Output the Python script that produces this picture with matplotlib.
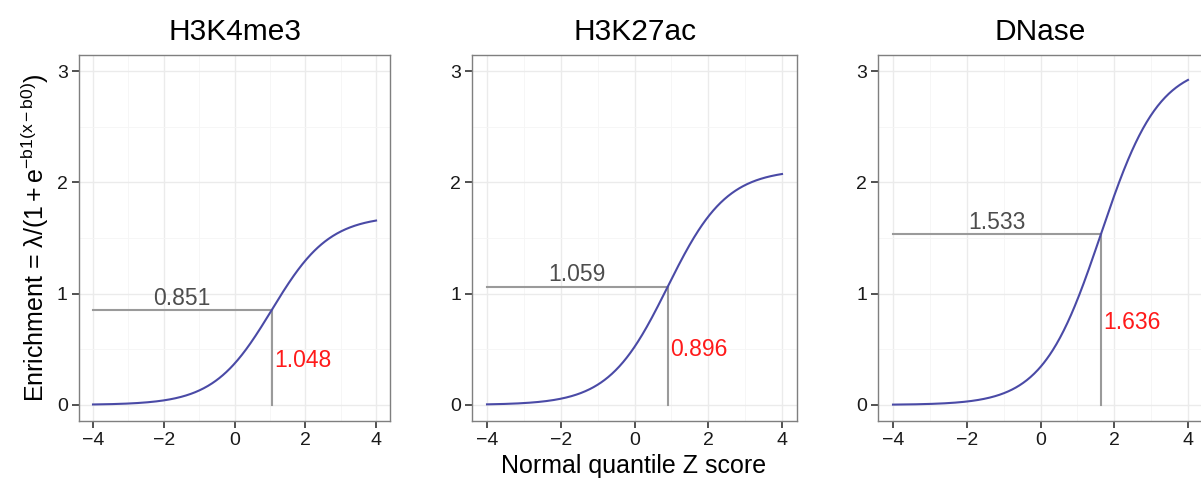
import numpy as np
import matplotlib
matplotlib.use('Agg')
import matplotlib.pyplot as plt

plt.rcParams['font.family'] = ['Liberation Sans', 'DejaVu Sans']
plt.rcParams['mathtext.fontset'] = 'custom'
plt.rcParams['mathtext.rm'] = 'Liberation Sans'
plt.rcParams['mathtext.it'] = 'Liberation Sans'

# fitted logistic parameters per mark: Enrichment = lam / (1 + exp(-b1 (x - b0)))
marks = ['H3K4me3', 'H3K27ac', 'DNase']
half_lam = [0.851, 1.059, 1.533]   # lambda / 2 (value at the midpoint)
b0 = [1.048, 0.896, 1.636]         # midpoint
b1 = [1.22, 1.25, 1.27]            # slope
x_ticks = [-4, -2, 0, 2, 4]
y_ticks = [0, 1, 2, 3]

W, H = 1201, 479
fig = plt.figure(figsize=(W / 100, H / 100), dpi=100)

# panel pixel boxes (left, right), shared top/bottom
panels_px = [(78.85, 390.2), (472.25, 796.75), (878.25, 1202.75)]
top_px, bot_px = 55, 421

curve_col = '#4A4AA6'
gray_line = '#9A9A9A'
gray_text = '#4D4D4D'

axes = []
for i, name in enumerate(marks):
    l, r = panels_px[i]
    ax = fig.add_axes([l / W, 1 - bot_px / H, (r - l) / W, (bot_px - top_px) / H])
    axes.append(ax)
    lam = 2 * half_lam[i]
    x = np.linspace(-4, 4, 400)
    y = lam / (1 + np.exp(-b1[i] * (x - b0[i])))

    ax.plot(x, y, color=curve_col, lw=1.5, zorder=3)
    ax.plot([-4, b0[i]], [half_lam[i], half_lam[i]], color=gray_line, lw=1.5, zorder=2)
    ax.plot([b0[i], b0[i]], [0, half_lam[i]], color=gray_line, lw=1.5, zorder=2)

    ax.annotate('{:.3f}'.format(half_lam[i]), xy=((-4 + b0[i]) / 2, half_lam[i]),
                xytext=(0, 0.5), textcoords='offset points',
                ha='center', va='bottom', fontsize=16.5, color=gray_text)
    ax.annotate('{:.3f}'.format(b0[i]), xy=(b0[i], lam / 4 - 0.03),
                xytext=(2, 0), textcoords='offset points',
                ha='left', va='center', fontsize=16.5, color='#FF1A1A')

    ax.set_xlim(-4.4, 4.4)
    ax.set_ylim(-0.145, 3.145)
    ax.set_xticks(x_ticks)
    ax.set_yticks(y_ticks)
    ax.set_xticks([-3, -1, 1, 3], minor=True)
    ax.set_yticks([0.5, 1.5, 2.5], minor=True)
    ax.set_xticklabels([str(v).replace('-', '\u2212') for v in x_ticks])
    ax.grid(which='major', color='#EBEBEB', lw=1.0, zorder=0)
    ax.grid(which='minor', color='#F5F5F5', lw=0.6, zorder=0)
    ax.set_axisbelow(True)
    ax.tick_params(which='major', length=5, width=1.2, color='#333333',
                   labelsize=14, labelcolor='#1A1A1A', pad=3)
    ax.tick_params(which='minor', length=0)
    for s in ax.spines.values():
        s.set_color('#7F7F7F')
        s.set_linewidth(1.0)
    ax.set_title(name, fontsize=21.5, pad=11)

axes[0].set_ylabel(r'Enrichment = $\mathregular{\lambda/(1 + e^{-b1(x-b0)})}$',
                   fontsize=18, labelpad=4)
fig.text(634 / W, 1 - 478 / H, 'Normal quantile Z score', ha='center', va='bottom',
         fontsize=18)

fig.savefig('out.png', dpi=100)
